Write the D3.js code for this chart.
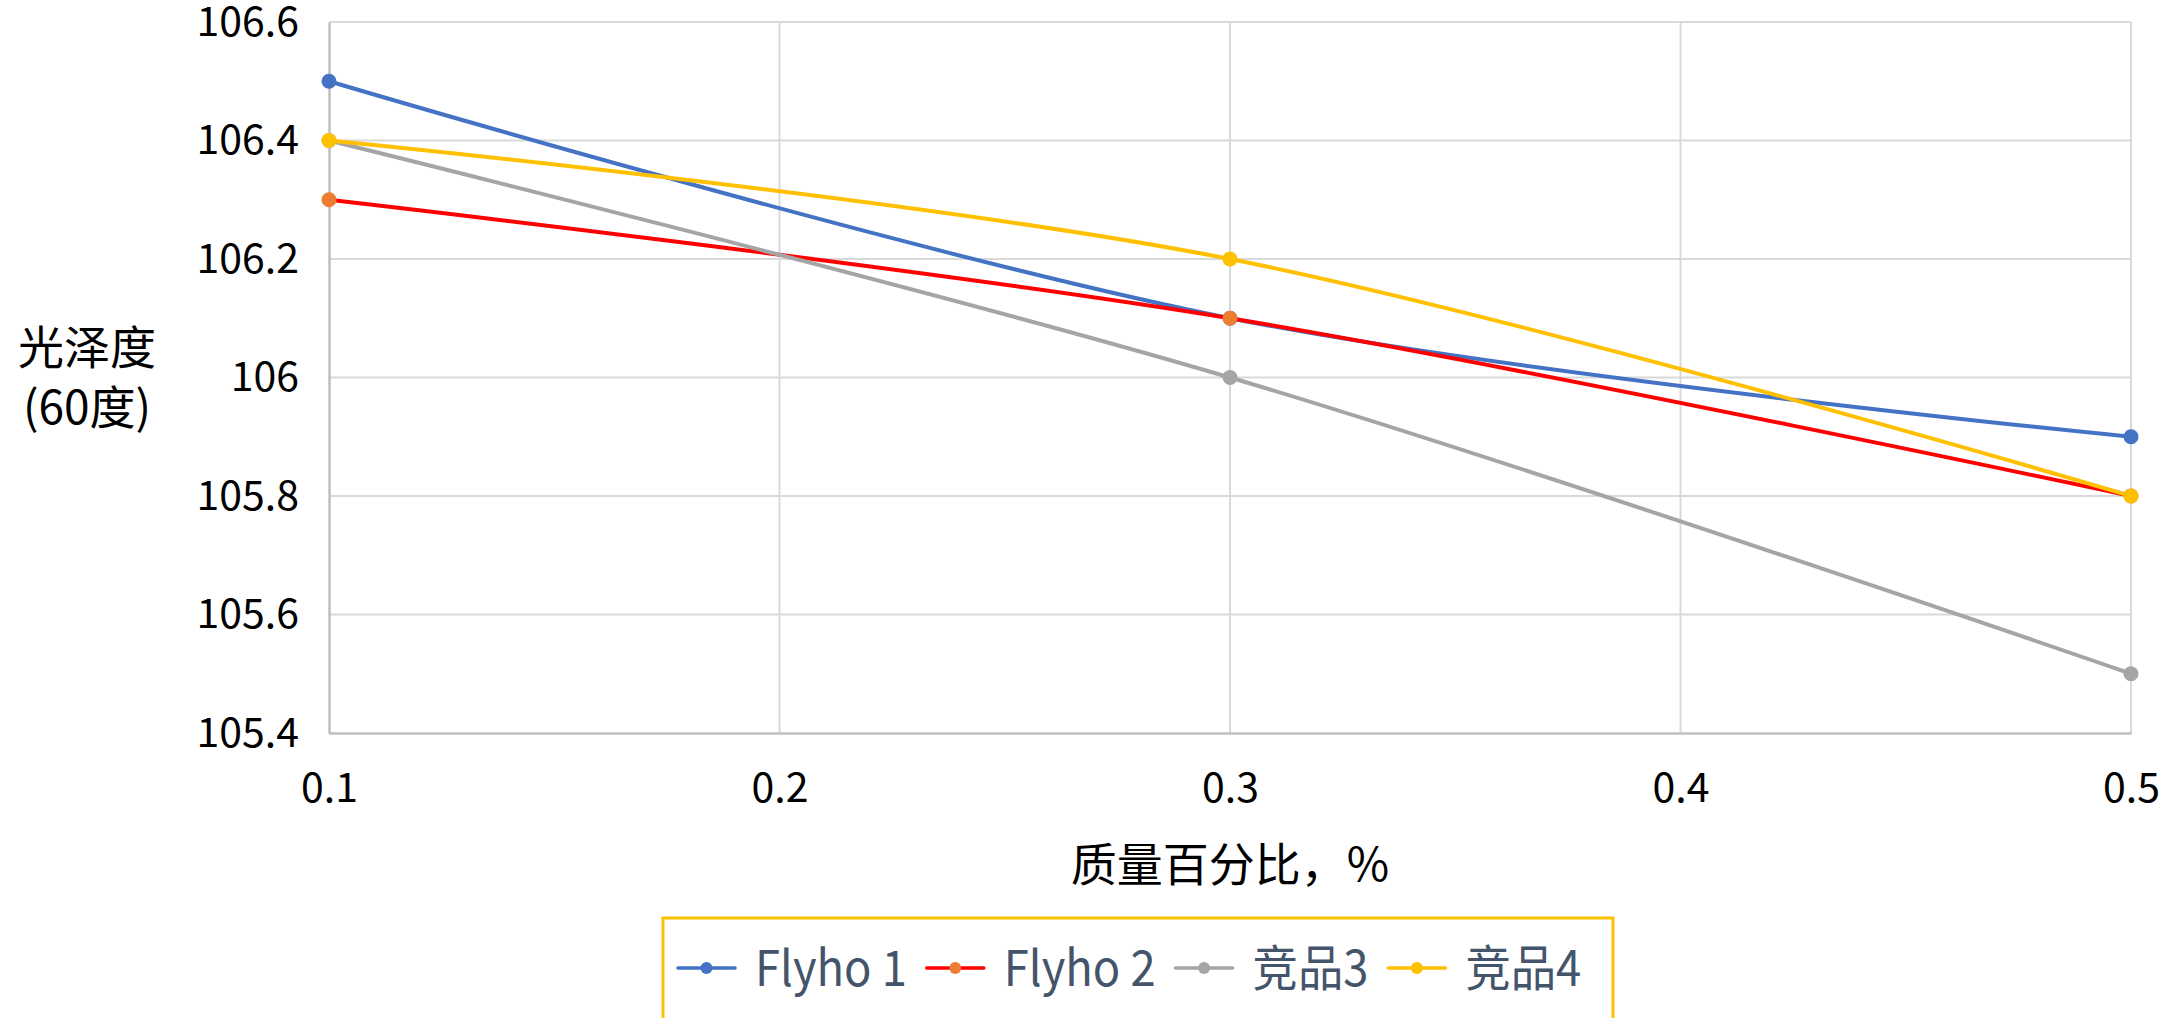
<!DOCTYPE html>
<html>
<head>
<meta charset="utf-8">
<script src="https://cdn.jsdelivr.net/npm/d3@7"></script>
<style>
  html, body { margin: 0; padding: 0; background: #fff; }
  svg { display: block; }
</style>
</head>
<body>
<svg id="chart" width="2175" height="1018"></svg>
<script>
// ---- data ----
const xValues = [0.1, 0.3, 0.5];
const seriesNames = ["Flyho 1", "Flyho 2", "竞品3", "竞品4"];
const flyho1 = [106.5, 106.1, 105.9];
const flyho2 = [106.3, 106.1, 105.8];
const jingpin3 = [106.4, 106.0, 105.5];
const jingpin4 = [106.4, 106.2, 105.8];
const xTicks = [0.1, 0.2, 0.3, 0.4, 0.5];
const yTicks = [105.4, 105.6, 105.8, 106, 106.2, 106.4, 106.6];
const xTitle = "质量百分比，%";
const yTitleLines = ["光泽度", "(60度)"];

// ---- styles ----
const lineColors = ["#4472C4", "#FF0000", "#A5A5A5", "#FFC000"];
const markerColors = ["#4472C4", "#ED7D31", "#A5A5A5", "#FFC000"];
const seriesValues = [flyho1, flyho2, jingpin3, jingpin4];

const plot = { left: 329, right: 2131, top: 22, bottom: 733 };
const svg = d3.select("#chart");

const x = d3.scaleLinear().domain([0.1, 0.5]).range([plot.left, plot.right]);
const y = d3.scaleLinear().domain([105.4, 106.6]).range([plot.bottom, plot.top]);

const tickFont = "'Noto Sans CJK SC', 'Noto Sans', sans-serif";

// gridlines
const grid = svg.append("g");
grid.selectAll("line.h").data(yTicks.filter(d => d > 105.4)).join("line")
  .attr("x1", plot.left).attr("x2", plot.right)
  .attr("y1", d => y(d)).attr("y2", d => y(d))
  .attr("stroke", "#D9D9D9").attr("stroke-width", 2);
grid.selectAll("line.v").data(xTicks.filter(d => d > 0.1)).join("line")
  .attr("y1", plot.top).attr("y2", plot.bottom)
  .attr("x1", d => x(d)).attr("x2", d => x(d))
  .attr("stroke", "#D9D9D9").attr("stroke-width", 2);

// axes
const yAxis = d3.axisLeft(y).tickValues(yTicks).tickSize(0).tickPadding(30)
  .tickFormat(d => d3.format("")(+d.toFixed(1)));
const gy = svg.append("g").attr("transform", `translate(${plot.left},0)`).call(yAxis);
gy.select(".domain").attr("stroke", "#BFBFBF").attr("stroke-width", 2.5);
gy.selectAll("text").attr("font-family", tickFont).attr("font-size", 41).attr("fill", "#000");

const xAxis = d3.axisBottom(x).tickValues(xTicks).tickSize(0).tickPadding(40)
  .tickFormat(d => d3.format(".1f")(d));
const gx = svg.append("g").attr("transform", `translate(0,${plot.bottom})`).call(xAxis);
gx.select(".domain").attr("stroke", "#BFBFBF").attr("stroke-width", 2.5);
gx.selectAll("text").attr("font-family", tickFont).attr("font-size", 41).attr("fill", "#000");

// lines
const line = d3.line()
  .x((d, i) => x(xValues[i]))
  .y(d => y(d))
  .curve(d3.curveCatmullRom.alpha(0));

seriesValues.forEach((vals, si) => {
  svg.append("path").datum(vals)
    .attr("d", line)
    .attr("fill", "none")
    .attr("stroke", lineColors[si])
    .attr("stroke-width", 4)
    .attr("stroke-linecap", "round");
  svg.append("g").selectAll("circle").data(vals).join("circle")
    .attr("cx", (d, i) => x(xValues[i]))
    .attr("cy", d => y(d))
    .attr("r", 7.5)
    .attr("fill", markerColors[si]);
});

// axis titles
svg.append("text")
  .attr("x", (plot.left + plot.right) / 2).attr("y", 861)
  .attr("text-anchor", "middle").attr("dominant-baseline", "central")
  .attr("font-family", tickFont).attr("font-size", 46).attr("fill", "#000")
  .text(xTitle);

const yt = svg.append("text")
  .attr("text-anchor", "middle")
  .attr("font-family", tickFont).attr("font-size", 46).attr("fill", "#000");
yTitleLines.forEach((t, i) => {
  yt.append("tspan").attr("x", 87).attr("y", 344 + i * 60)
    .attr("dominant-baseline", "central").text(t);
});

// legend
const legend = svg.append("g");
legend.append("rect")
  .attr("x", 663).attr("y", 918).attr("width", 950).attr("height", 140)
  .attr("fill", "#fff").attr("stroke", "#FFC000").attr("stroke-width", 3);
let lx = 678;
seriesNames.forEach((name, si) => {
  const g = legend.append("g");
  g.append("line").attr("x1", lx).attr("x2", lx + 57).attr("y1", 968).attr("y2", 968)
    .attr("stroke", lineColors[si]).attr("stroke-width", 3.5).attr("stroke-linecap", "round");
  g.append("circle").attr("cx", lx + 28.5).attr("cy", 968).attr("r", 6).attr("fill", markerColors[si]);
  const t = g.append("text").attr("x", lx + 77).attr("y", 986)
    .attr("font-family", tickFont).attr("font-size", 49).attr("fill", "#44546A")
    .text(name);
  const w = t.node().getComputedTextLength() * 0.925;
  t.attr("textLength", w).attr("lengthAdjust", "spacingAndGlyphs");
  lx = lx + 77 + w + 20;
});
</script>
</body>
</html>
